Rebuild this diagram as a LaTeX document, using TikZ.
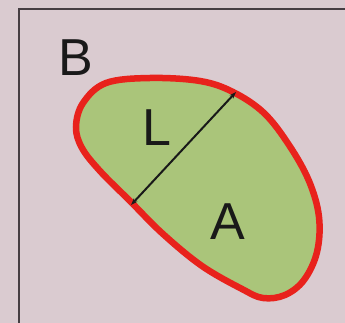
\documentclass[tikz,border=0pt]{standalone}
\usepackage{fontspec}
\setmainfont{Liberation Sans}
\usetikzlibrary{arrows.meta}
\definecolor{bg}{RGB}{218,203,208}
\definecolor{fillgreen}{RGB}{170,197,122}
\definecolor{outred}{RGB}{232,34,28}
\definecolor{frameline}{RGB}{70,62,66}
\definecolor{ink}{RGB}{25,25,25}
\tikzset{
  lbl/.style={font=\fontsize{52}{52}\selectfont, text=ink, inner sep=0pt},
  blob/.style={draw=outred, line width=6.5pt, fill=fillgreen},
  dim/.style={draw=ink, line width=2pt, {Stealth[length=7pt,width=5pt]}-{Stealth[length=7pt,width=5pt]}}
}
\begin{document}
\begin{tikzpicture}[x=1pt,y=-1pt]
\fill[bg] (0,0) rectangle (345,323);
\useasboundingbox (0,0) rectangle (345,323);
\draw[frameline, line width=2pt] (19,330) -- (19,9) -- (350,9);
\path[blob] plot[smooth cycle, tension=0.6] coordinates {
 (106,83) (150,78) (200,81) (233,92) (264,113) (289,145) (309,181) (319,217)
 (317,252) (304,280) (285,295) (263,298) (242,289) (202,266) (163,234)
 (130,201) (100,171) (82,148) (76,127) (83,103)};
\coordinate (p1) at (131,205);
\coordinate (p2) at (236,92);
\draw[dim] (p1) -- (p2);
\node[lbl] (B) at (76,58) {B};
\node[lbl] (L) at (157,128) {L};
\node[lbl] (A) at (228,222) {A};
\end{tikzpicture}
\end{document}
